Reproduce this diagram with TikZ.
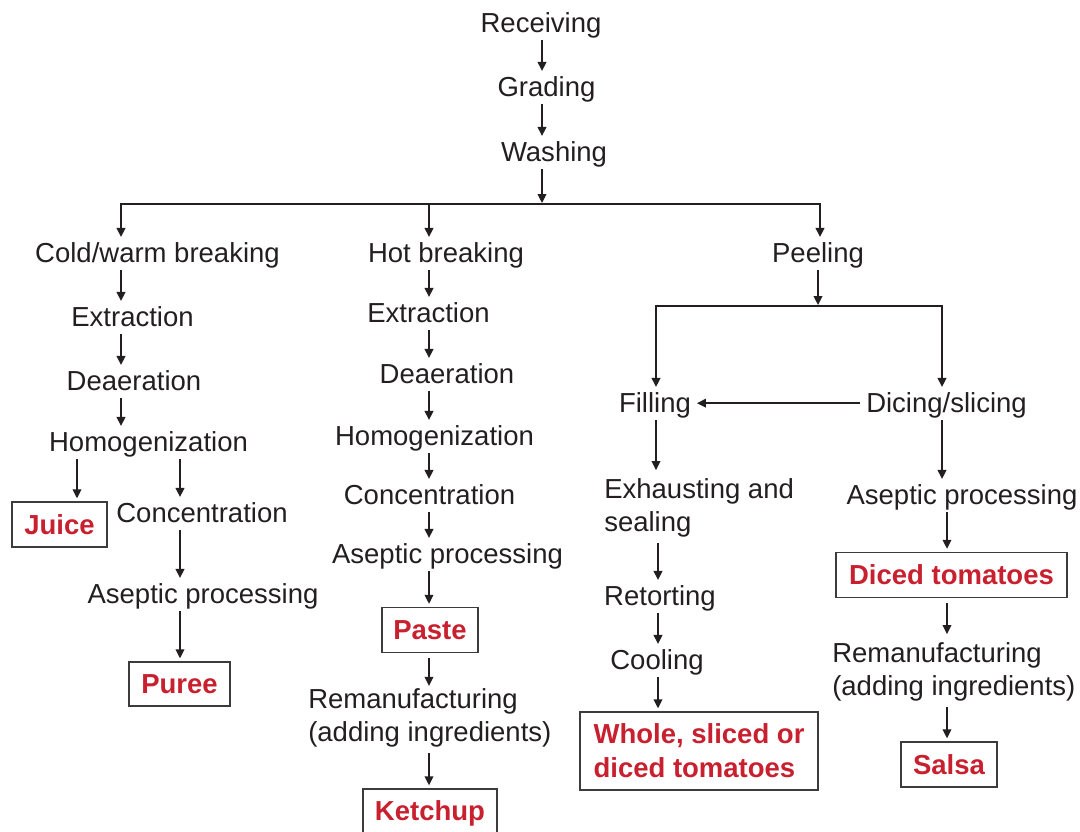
\documentclass[tikz,border=0pt]{standalone}
\usepackage{fontspec}
\setmainfont{Liberation Sans}
\usetikzlibrary{arrows.meta}
\definecolor{ink}{HTML}{231F20}
\definecolor{redc}{HTML}{C8202F}
\definecolor{boxc}{HTML}{3C3C3C}
\newcommand\fnorm{\fontsize{19.56pt}{23.1pt}\selectfont}
\newcommand\fbld{\fontsize{19.56pt}{24.2pt}\selectfont\bfseries}
\begin{document}
\begin{tikzpicture}[x=0.025cm,y=-0.025cm,
  lbl/.style={inner sep=0pt, font=\fnorm, text=ink, text height=14.1pt, text depth=4.1pt},
  multi/.style={inner sep=0pt, font=\fnorm, text=ink},
  prod/.style={draw=boxc, line width=0.9pt, inner sep=0pt, font=\fbld, text=redc, text height=13.9pt, text depth=0pt},
  conn/.style={draw=ink, line width=1.45pt, -{Triangle[length=6.5pt,width=6pt]}},
  arr/.style={conn, shorten <=0.9pt, shorten >=4.1pt},
  tobox/.style={conn, shorten <=0.9pt, shorten >=2.1pt},
  frombox/.style={conn, shorten <=3.6pt, shorten >=4.1pt},
  boxtobox/.style={conn, shorten <=3.6pt, shorten >=2.1pt},
  tomulti/.style={conn, shorten <=3.6pt, shorten >=0pt},
  drop/.style={conn, shorten >=4.1pt},
  tojoin/.style={conn, shorten <=0.9pt, shorten >=0.6pt}]
\useasboundingbox (0,0) rectangle (1080,832);

% column coordinates
\coordinate (bM) at (542,204);
\coordinate (bL) at (121,204);
\coordinate (bC) at (429,204);
\coordinate (bR) at (820,204);
\coordinate (xJ) at (77,0);
\coordinate (xC) at (180,0);
\coordinate (pJ) at (818,306);
\coordinate (pL) at (656,306);
\coordinate (pR) at (942,306);
\coordinate (xF) at (658,0);
\coordinate (xD) at (947,0);

% top
\node[lbl, anchor=base] (rec)  at (541,33)  {Receiving};
\node[lbl, anchor=base] (grad) at (546.5,97) {Grading};
\node[lbl, anchor=base] (wash) at (554,162) {Washing};

% second level
\node[lbl, anchor=base] (cold) at (157.5,263) {Cold/warm breaking};
\node[lbl, anchor=base] (hot)  at (446,263)   {Hot breaking};
\node[lbl, anchor=base] (peel) at (818,263)   {Peeling};

% left column
\node[lbl, anchor=base] (ext1)  at (132.5,327) {Extraction};
\node[lbl, anchor=base] (dea1)  at (134,391)   {Deaeration};
\node[lbl, anchor=base] (hom1)  at (148.5,452) {Homogenization};
\node[prod, minimum width=95*0.025cm, minimum height=45*0.025cm] (juice) at (59.5,524.5) {Juice};
\node[lbl, anchor=base] (conc1) at (202,523)   {Concentration};
\node[lbl, anchor=base] (asep1) at (203,604)   {Aseptic processing};
\node[prod, minimum width=101*0.025cm, minimum height=44*0.025cm] (puree) at (179.5,684) {Puree};

% middle column
\node[lbl, anchor=base] (ext2)  at (428.5,323) {Extraction};
\node[lbl, anchor=base] (dea2)  at (447,384)   {Deaeration};
\node[lbl, anchor=base] (hom2)  at (434.5,446) {Homogenization};
\node[lbl, anchor=base] (conc2) at (429.5,505) {Concentration};
\node[lbl, anchor=base] (asep2) at (447.5,564) {Aseptic processing};
\node[prod, minimum width=96*0.025cm, minimum height=45*0.025cm] (paste) at (430,630) {Paste};
\node[multi, anchor=base west] (rem2) at (308,709)
  {\begin{tabular}[t]{@{}l@{}}Remanufacturing\\(adding ingredients)\end{tabular}};
\node[prod, minimum width=134*0.025cm, minimum height=44*0.025cm] (ketchup) at (430,811) {Ketchup};

% right columns
\node[lbl, anchor=base] (fill) at (655,413)   {Filling};
\node[lbl, anchor=base] (dice) at (946.5,413) {Dicing/slicing};
\node[multi, anchor=base west] (exh) at (604,499)
  {\begin{tabular}[t]{@{}l@{}}Exhausting and\\sealing\end{tabular}};
\node[lbl, anchor=base] (ret)  at (660,606) {Retorting};
\node[lbl, anchor=base] (cool) at (657,670) {Cooling};
\node[prod, minimum width=238*0.025cm, minimum height=78*0.025cm, text height=38.1pt] (whole) at (699,751)
  {\begin{tabular}[b]{@{}l@{}}Whole, sliced or\\diced tomatoes\end{tabular}};

\node[lbl, anchor=base] (asep3) at (962,505) {Aseptic processing};
\node[prod, minimum width=231*0.025cm, minimum height=45*0.025cm] (diced) at (951.5,575) {Diced tomatoes};
\node[multi, anchor=base west] (rem3) at (832,663)
  {\begin{tabular}[t]{@{}l@{}}Remanufacturing\\(adding ingredients)\end{tabular}};
\node[prod, minimum width=96*0.025cm, minimum height=45*0.025cm] (salsa) at (949,764.5) {Salsa};

% connectors: top
\draw[arr] (rec.south -| bM) -- (grad.north -| bM);
\draw[arr] (grad.south -| bM) -- (wash.north -| bM);
\draw[tojoin] (wash.south -| bM) -- (bM);
\draw[drop] (bM) -| (cold.north -| bL);
\draw[drop] (bM) -| (peel.north -| bR);
\draw[drop] (bC) -- (hot.north -| bC);

% left column
\draw[arr] (cold.south -| bL) -- (ext1.north -| bL);
\draw[arr] (ext1.south -| bL) -- (dea1.north -| bL);
\draw[arr] (dea1.south -| bL) -- (hom1.north -| bL);
\draw[tobox] (hom1.south -| xJ) -- (juice.north -| xJ);
\draw[arr] (hom1.south -| xC) -- (conc1.north -| xC);
\draw[arr] (conc1.south -| xC) -- (asep1.north -| xC);
\draw[tobox] (asep1.south -| xC) -- (puree.north -| xC);

% middle column
\draw[arr] (hot.south -| bC) -- (ext2.north -| bC);
\draw[arr] (ext2.south -| bC) -- (dea2.north -| bC);
\draw[arr] (dea2.south -| bC) -- (hom2.north -| bC);
\draw[arr] (hom2.south -| bC) -- (conc2.north -| bC);
\draw[arr] (conc2.south -| bC) -- (asep2.north -| bC);
\draw[tobox] (asep2.south -| bC) -- (paste.north -| bC);
\draw[tomulti] (paste.south -| bC) -- (rem2.north -| bC);
\draw[tobox] (rem2.south -| bC) -- (ketchup.north -| bC);

% peeling branch
\draw[tojoin] (peel.south -| pJ) -- (pJ);
\draw[drop] (pJ) -| (fill.north -| pL);
\draw[drop] (pJ) -| (dice.north -| pR);
\draw[conn, shorten <=4.5pt, shorten >=4pt] ([yshift=2pt]dice.west) -- ([yshift=2pt]fill.east);

\draw[arr] (fill.south -| pL) -- (exh.north -| pL);
\draw[arr] (exh.south -| xF) -- (ret.north -| xF);
\draw[arr] (ret.south -| xF) -- (cool.north -| xF);
\draw[tobox] (cool.south -| xF) -- (whole.north -| xF);

\draw[arr] (dice.south -| pR) -- (asep3.north -| pR);
\draw[tobox] (asep3.south -| xD) -- (diced.north -| xD);
\draw[frombox] (diced.south -| xD) -- (rem3.north -| xD);
\draw[tobox] (rem3.south -| xD) -- (salsa.north -| xD);
\end{tikzpicture}
\end{document}
